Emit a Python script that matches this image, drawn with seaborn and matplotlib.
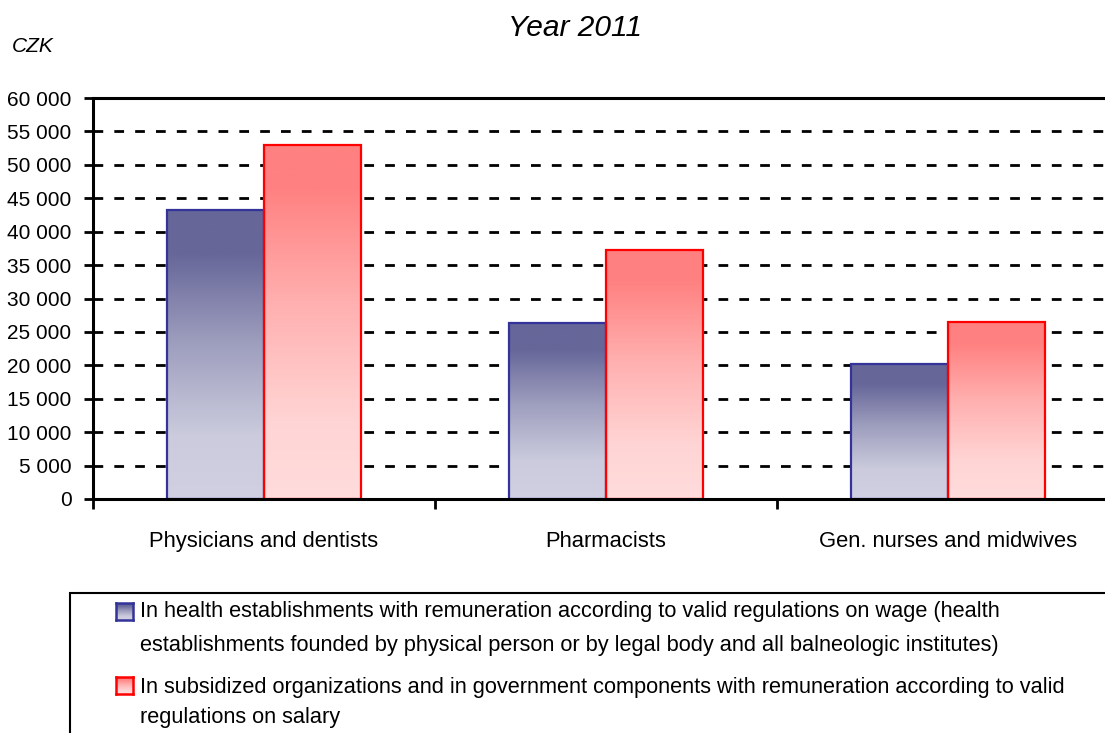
import numpy as np
import pandas as pd
import matplotlib
matplotlib.use("Agg")
import matplotlib.pyplot as plt
import seaborn as sns
from matplotlib.colors import LinearSegmentedColormap
from matplotlib.patches import Rectangle

# ---- data ----
categories = ["Physicians and dentists", "Pharmacists", "Gen. nurses and midwives"]
series_lines = [
    ["In health establishments with remuneration according to valid regulations on wage (health",
     "establishments founded by physical person or by legal body and all balneologic institutes)"],
    ["In subsidized organizations and in government components with remuneration according to valid",
     "regulations on salary"],
]
series_names = [" ".join(l) for l in series_lines]
wage_values = [43300, 26400, 20200]
salary_values = [53000, 37300, 26500]
y_ticks = [0, 5000, 10000, 15000, 20000, 25000, 30000, 35000, 40000, 45000, 50000, 55000, 60000]
y_tick_labels = ["0", "5 000", "10 000", "15 000", "20 000", "25 000", "30 000",
                 "35 000", "40 000", "45 000", "50 000", "55 000", "60 000"]
title = "Year 2011"
unit = "CZK"

sns.set_style("white")
plt.rcParams["font.family"] = ["Liberation Sans", "DejaVu Sans"]
plt.rcParams["text.color"] = "black"
plt.rcParams["xtick.color"] = "black"
plt.rcParams["ytick.color"] = "black"
plt.rcParams["xtick.labelcolor"] = "black"
plt.rcParams["ytick.labelcolor"] = "black"

df = pd.DataFrame({
    "category": categories * 2,
    "series": [series_names[0]] * 3 + [series_names[1]] * 3,
    "value": wage_values + salary_values,
})

W, H = 1105, 733
fig = plt.figure(figsize=(W / 100, H / 100), dpi=100)
ax = fig.add_axes([93 / W, 1 - 499 / H, 1 - 93 / W, (499 - 98) / H])

edge_colors = ["#333399", "#ff0000"]
sns.barplot(data=df, x="category", y="value", hue="series", order=categories,
            hue_order=series_names, palette=["#666699", "#ff8080"], width=0.57,
            gap=0, ax=ax, legend=False, zorder=3)

grad_cmaps = [
    LinearSegmentedColormap.from_list(
        "b", [(0.0, "#d0d0e2"), (0.22, "#cbcbdd"), (0.55, "#9c9cbd"), (0.85, "#666699"), (1.0, "#666699")]),
    LinearSegmentedColormap.from_list(
        "r", [(0.0, "#ffdcdc"), (0.22, "#ffd4d4"), (0.55, "#ffb0b0"), (0.88, "#ff8080"), (1.0, "#ff8080")]),
]

bars = [p for p in ax.patches if p.get_height() > 0]
for i, p in enumerate(bars):
    s = i // 3
    x0, y0 = p.get_x(), p.get_y()
    w, h = p.get_width(), p.get_height()
    grad = np.linspace(0, 1, 256).reshape(-1, 1)
    im = ax.imshow(grad, cmap=grad_cmaps[s], origin="lower", aspect="auto",
                   extent=[x0, x0 + w, y0, y0 + h], zorder=3, interpolation="bilinear")
    im.set_clip_path(p)
    p.set_facecolor("none")
    p.set_edgecolor(edge_colors[s])
    p.set_linewidth(1.6)
    p.set_zorder(4)

# grid
for yv in y_ticks[1:-1]:
    ax.axhline(yv, color="black", lw=2.0, ls=(0, (3.5, 4.0)), zorder=1)
ax.axhline(60000, color="black", lw=2.2, zorder=5, clip_on=False)

for side in ["top", "right"]:
    ax.spines[side].set_visible(False)
for side in ["left", "bottom"]:
    ax.spines[side].set_linewidth(2.2)
    ax.spines[side].set_color("black")
    ax.spines[side].set_zorder(6)

ax.set_yticks(y_ticks)
ax.set_yticklabels(y_tick_labels, fontsize=15)
ax.tick_params(axis="y", direction="out", length=6.5, width=2, pad=9, left=True)
ax.set_xticks(range(len(categories)))
ax.set_xticklabels(categories, fontsize=15.8)
ax.tick_params(axis="x", which="major", length=0, pad=23)
ax.set_xticks([-0.5, 0.5, 1.5, 2.5], minor=True)
ax.tick_params(axis="x", which="minor", direction="out", length=7, width=2, bottom=True)
ax.set_xlabel("")
ax.set_ylabel("")
ax.set_xlim(-0.5, 2.5 - 14 / 342)
ax.set_ylim(0, 60000)
ax.set_aspect("auto")

fig.text(575 / W, 1 - 28 / H, title, fontsize=21.5, style="italic", ha="center", va="center")
fig.text(12 / W, 1 - 47 / H, unit, fontsize=15, style="italic", ha="left", va="center")

# legend box (manual, extends past figure edge as in reference)
fig.patches.append(Rectangle((70 / W, -0.05), 1.0, 1 - 593 / H + 0.05,
                             transform=fig.transFigure, fill=False, edgecolor="black",
                             lw=1.5, clip_on=False))
legend_items = [(603, [612, 645]), (677, [687, 718])]
for s, (sq_top, line_ys) in enumerate(legend_items):
    lax = fig.add_axes([116 / W, 1 - (sq_top + 17) / H, 17 / W, 17 / H])
    lax.imshow(np.linspace(0, 1, 64).reshape(-1, 1), cmap=grad_cmaps[s], origin="lower",
               aspect="auto", extent=[0, 1, 0, 1])
    lax.set_xticks([])
    lax.set_yticks([])
    for sp in lax.spines.values():
        sp.set_color(edge_colors[s])
        sp.set_linewidth(1.8)
    for line, ly in zip(series_lines[s], line_ys):
        fig.text(140 / W, 1 - ly / H, line, fontsize=15.7, ha="left", va="center")

fig.savefig("out.png", dpi=100)
